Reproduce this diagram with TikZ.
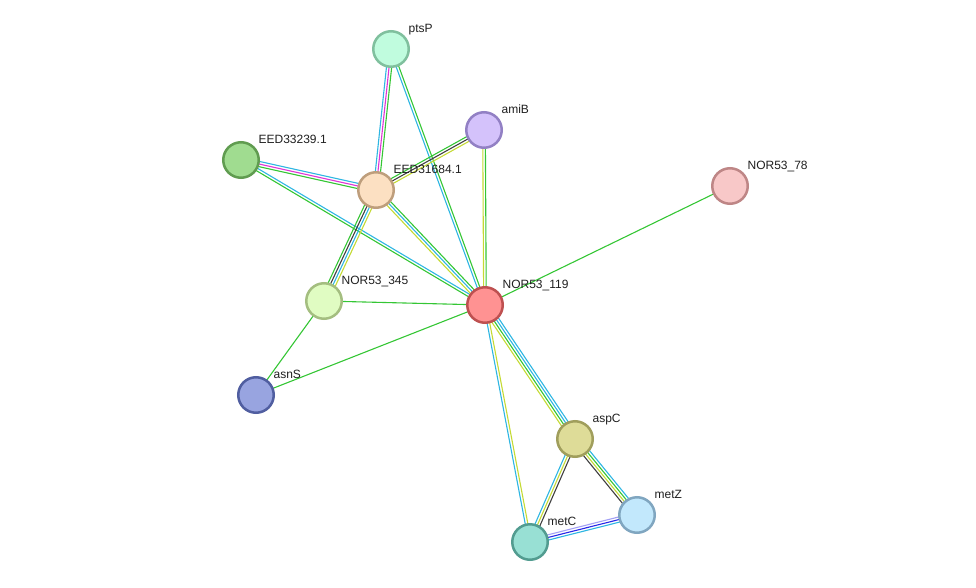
\documentclass[tikz,border=0pt]{standalone}
\usepackage{fontspec}
\setmainfont{Liberation Sans}
\usetikzlibrary{calc,backgrounds}

\definecolor{cgreen}{RGB}{52,198,52}
\definecolor{ccyan}{RGB}{46,182,226}
\definecolor{cmag}{RGB}{222,52,214}
\definecolor{cyel}{RGB}{196,218,52}
\definecolor{cdark}{RGB}{64,64,64}
\definecolor{cblue}{RGB}{40,40,232}
\definecolor{clav}{RGB}{162,160,244}

\tikzset{
  prot/.style={circle,draw,line width=2.5pt,minimum size=35.5pt,inner sep=0},
  lbl/.style={anchor=base west,inner sep=0,xshift=4pt,yshift=2.8pt,font=\fontsize{12}{14}\selectfont,text=black!88},
  edge/.style={line width=1.1pt}
}

% parallel strands between two nodes, one per evidence colour
\newcommand{\strands}[3]{%
  \foreach \c [count=\i] in {#3} {\xdef\nstr{\i}}
  \foreach \c [count=\i] in {#3} {
    \pgfmathsetmacro{\off}{(\i-(\nstr+1)/2)*2.6}
    \draw[edge,\c] ($(#1)!\off pt!90:(#2)$) -- ($(#2)!\off pt!-90:(#1)$);
  }
}

\begin{document}
\begin{tikzpicture}[x=1pt,y=-1pt]
        \useasboundingbox (0,0) rectangle (976,588);

        \node[prot,fill={rgb,255:red,192;green,252;blue,222},draw={rgb,255:red,128;green,192;blue,158},label={[lbl]north east:ptsP}] (ptsP) at (391,49){};
        \node[prot,fill={rgb,255:red,212;green,194;blue,251},draw={rgb,255:red,146;green,128;blue,196},label={[lbl]north east:amiB}] (amiB) at (484,130){};
        \node[prot,fill={rgb,255:red,160;green,220;blue,144},draw={rgb,255:red,96;green,156;blue,80},label={[lbl]north east:EED33239.1}] (eed33) at (241,160){};
        \node[prot,fill={rgb,255:red,252;green,224;blue,194},draw={rgb,255:red,190;green,158;blue,124},label={[lbl]north east:EED31684.1}] (eed31) at (376,190){};
        \node[prot,fill={rgb,255:red,248;green,200;blue,200},draw={rgb,255:red,190;green,134;blue,134},label={[lbl]north east:NOR53\_78}] (n78) at (730,186){};
        \node[prot,fill={rgb,255:red,224;green,252;blue,194},draw={rgb,255:red,164;green,190;blue,128},label={[lbl]north east:NOR53\_345}] (n345) at (324,301){};
        \node[prot,fill={rgb,255:red,255;green,146;blue,146},draw={rgb,255:red,190;green,80;blue,80},label={[lbl]north east:NOR53\_119}] (n119) at (485,305){};
        \node[prot,fill={rgb,255:red,152;green,164;blue,224},draw={rgb,255:red,80;green,94;blue,160},label={[lbl]north east:asnS}] (asnS) at (256,395){};
        \node[prot,fill={rgb,255:red,222;green,220;blue,152},draw={rgb,255:red,160;green,158;blue,92},label={[lbl]north east:aspC}] (aspC) at (575,439){};
        \node[prot,fill={rgb,255:red,194;green,232;blue,252},draw={rgb,255:red,128;green,166;blue,192},label={[lbl]north east:metZ}] (metZ) at (637,515){};
        \node[prot,fill={rgb,255:red,152;green,224;blue,212},draw={rgb,255:red,82;green,156;blue,144},label={[lbl]north east:metC}] (metC) at (530,542){};

        \begin{pgfonlayer}{background}
        \strands{ptsP}{eed31}{ccyan,cmag,cgreen}
        \strands{ptsP}{n119}{ccyan,cgreen}
        \strands{eed33}{eed31}{cgreen,cmag,ccyan}
        \strands{eed33}{n119}{cgreen,ccyan}
        \strands{amiB}{eed31}{cgreen,cdark,cyel}
        \strands{amiB}{n119}{cyel,cgreen}
        \strands{eed31}{n345}{cgreen,cdark,ccyan,cyel}
        \strands{eed31}{n119}{cyel,ccyan,cgreen}
        \strands{n345}{n119}{cgreen}
        \strands{n345}{asnS}{cgreen}
        \strands{asnS}{n119}{cgreen}
        \strands{n78}{n119}{cgreen}
        \strands{n119}{aspC}{cyel,cgreen,ccyan,ccyan}
        \strands{n119}{metC}{ccyan,cyel}
        \strands{aspC}{metC}{ccyan,cyel,cdark}
        \strands{aspC}{metZ}{cdark,cyel,cgreen,ccyan}
        \strands{metC}{metZ}{ccyan,cblue,clav}
        \end{pgfonlayer}

    \end{tikzpicture}
\end{document}
